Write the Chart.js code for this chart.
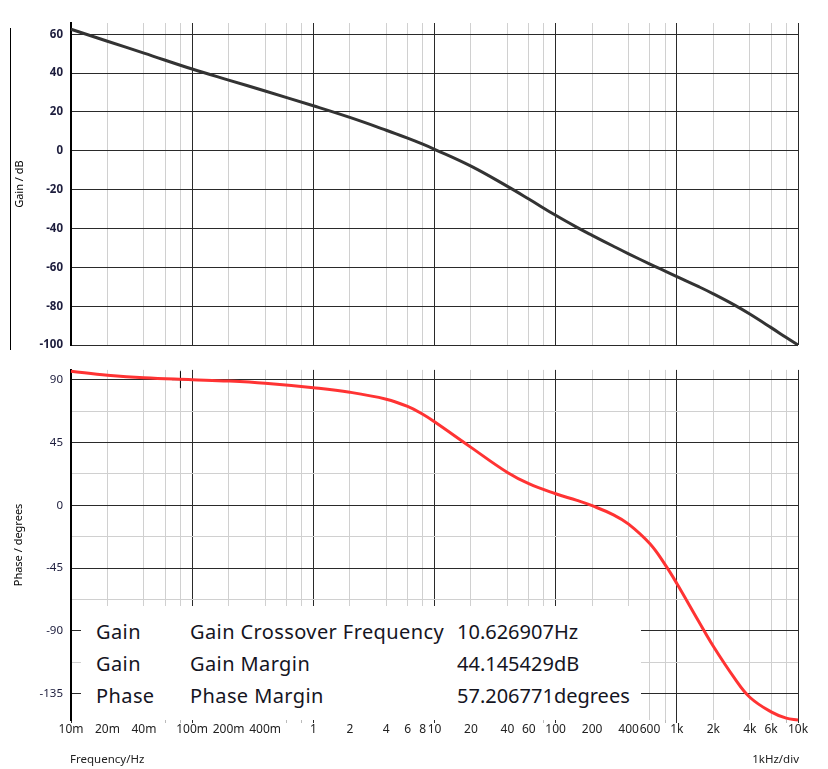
<!DOCTYPE html>
<html>
<head>
<meta charset="utf-8">
<title>Loop response</title>
<script src="https://cdn.jsdelivr.net/npm/chart.js@4.4.1/dist/chart.umd.min.js"></script>
<style>
  body { margin: 0; background: #fff; font-family: "Noto Sans", sans-serif; }
  #wrap { position: relative; width: 828px; height: 769px; overflow: hidden; }
  canvas { position: absolute; left: 0; }
  #gainChart { top: 0; }
  #phaseChart { top: 355px; }
  #frame { position: absolute; left: 10px; top: 28px; width: 1px; height: 322px; background: #000; }
  .note { position: absolute; top: 751px; font-size: 11.5px; line-height: 16px; color: #222; }
  #margins { position: absolute; left: 81px; top: 606px; width: 560px; height: 114px; background: #fff; color: #15151f; font-size: 20px; }
  #margins div { position: absolute; line-height: 26px; white-space: nowrap; }
  #margins .name { letter-spacing: 0.4px; }
</style>
</head>
<body>
<div id="wrap">
  <div id="frame"></div>
  <canvas id="gainChart" width="828" height="360"></canvas>
  <canvas id="phaseChart" width="828" height="415"></canvas>
  <div id="margins">
    <div class="name" style="left:15px; top:13px">Gain</div>
    <div class="name" style="left:109px; top:13px">Gain Crossover Frequency</div>
    <div style="left:376px; top:13px">10.626907Hz</div>
    <div class="name" style="left:15px; top:45px">Gain</div>
    <div class="name" style="left:109px; top:45px">Gain Margin</div>
    <div style="left:376px; top:45px">44.145429dB</div>
    <div class="name" style="left:15px; top:77px">Phase</div>
    <div class="name" style="left:109px; top:77px">Phase Margin</div>
    <div style="left:376px; top:77px">57.206771degrees</div>
  </div>
  <div class="note" style="left:70px">Frequency/Hz</div>
  <div class="note" style="right:29px">1kHz/div</div>
</div>
<script>
// sampled response, Hz / dB / degrees
const freqs = [0.01, 0.02, 0.04, 0.1, 0.2, 0.4, 1, 2, 4, 6, 8, 10, 20, 40, 60, 100, 150,
  200, 300, 400, 600, 800, 1000, 1500, 2000, 3000, 4000, 6000, 8000, 10000];
const gainDb = [62.6, 56.4, 50.3, 42.1, 36.4, 30.8, 23.2, 17.2, 10.6, 6.5, 3.4, 0.8, -7.9, -18.3, -24.8, -33.2, -39.4,
  -43.5, -49.1, -53.0, -58.3, -61.9, -64.7, -69.8, -73.6, -79.4, -84.0, -91.0, -96.1, -100.0];
const phaseDeg = [96.0, 93.2, 91.3, 90.0, 89.0, 87.4, 84.2, 81.0, 76.0, 70.8, 65.2, 59.8, 41.5, 23.5, 15.5, 8.3, 3.5,
  -0.3, -6.8, -13.5, -27.6, -42.5, -56.0, -82.5, -101.0, -124.0, -137.5, -148.0, -152.5, -153.8];

// cursor marker on the phase plot
const markerFreq = 0.08;
const markerPhase = 90;

// frequency axis labels
const labelFreqs = [0.01, 0.02, 0.04, 0.1, 0.2, 0.4, 1, 2, 4, 6, 8, 10, 20, 40, 60, 100,
  200, 400, 600, 1000, 2000, 4000, 6000, 10000];
const freqLabels = ['10m', '20m', '40m', '100m', '200m', '400m', '1', '2', '4', '6', '8', '10', '20', '40', '60', '100',
  '200', '400', '600', '1k', '2k', '4k', '6k', '10k'];

const gainTicks = [60, 40, 20, 0, -20, -40, -60, -80, -100];
const phaseTicks = [90, 67.5, 45, 22.5, 0, -22.5, -45, -67.5, -90, -112.5, -135];

// grid lines at 1, 2, 4, 6, 8 of every decade
const gridFreqs = [];
for (let d = 0.01; d < 5000; d *= 10) {
  [1, 2, 4, 6, 8].forEach(m => gridFreqs.push(+(d * m).toPrecision(3)));
}
gridFreqs.push(10000);

const MAJOR = '#2a2a2a';
const MINOR = '#d0d0d0';

Chart.defaults.font.family = '"Noto Sans", sans-serif';

const sameFreq = (a, b) => Math.abs(Math.log10(a / b)) < 1e-6;
const isDecade = v => Math.abs(Math.log10(v) - Math.round(Math.log10(v))) < 1e-6;
const isLabelled = v => labelFreqs.some(f => sameFreq(f, v));

function freqAxis(showLabels) {
  return {
    type: 'logarithmic',
    min: 0.01,
    max: 10000,
    afterBuildTicks: s => { s.ticks = gridFreqs.map(v => ({ value: v })); },
    afterFit: s => { s.height = showLabels ? 50 : 0; },
    border: { display: false },
    grid: {
      drawTicks: showLabels,
      tickLength: 3,
      color: c => isDecade(c.tick.value) ? MAJOR : MINOR,
      // small marks under the axis, hidden where a label sits
      tickColor: c => isDecade(c.tick.value) ? MAJOR : (isLabelled(c.tick.value) ? 'rgba(0,0,0,0)' : '#bbb')
    },
    ticks: {
      display: showLabels,
      autoSkip: false,
      maxRotation: 0,
      padding: -1,
      color: '#222',
      font: { size: 12 },
      callback: v => {
        const i = labelFreqs.findIndex(f => sameFreq(f, v));
        return i < 0 ? '' : freqLabels[i];
      }
    }
  };
}

function points(ys) {
  return freqs.map((f, i) => ({ x: f, y: ys[i] }));
}

new Chart(document.getElementById('gainChart'), {
  type: 'line',
  data: {
    datasets: [{
      data: points(gainDb),
      borderColor: '#333',
      borderWidth: 3,
      pointRadius: 0,
      tension: 0.4,
      clip: 3
    }]
  },
  options: {
    responsive: false,
    animation: false,
    events: [],
    layout: { padding: { top: 23, right: 30, bottom: 10.7, left: 0 } },
    plugins: { legend: { display: false }, tooltip: { enabled: false } },
    scales: {
      x: freqAxis(false),
      y: {
        min: -100,
        max: 65.8,
        afterBuildTicks: s => { s.ticks = gainTicks.map(v => ({ value: v })); },
        afterFit: s => { s.width = 71; },
        border: { display: true, color: '#000', width: 2 },
        grid: { drawTicks: false, color: MAJOR },
        ticks: { padding: 8, color: '#1c1c3c', font: { size: 11.5, weight: 'bold' } },
        title: {
          display: true,
          text: 'Gain / dB',
          color: '#000',
          font: { size: 11 },
          padding: { top: 13, bottom: 0 }
        }
      }
    }
  }
});

new Chart(document.getElementById('phaseChart'), {
  type: 'line',
  data: {
    datasets: [{
      data: points(phaseDeg),
      borderColor: '#ff3333',
      borderWidth: 3,
      pointRadius: 0,
      tension: 0.4,
      clip: 3
    }, {
      data: [{ x: markerFreq, y: markerPhase }],
      showLine: false,
      pointStyle: 'cross',
      pointRadius: 8.5,
      pointBorderColor: '#000',
      pointBorderWidth: 1
    }]
  },
  options: {
    responsive: false,
    animation: false,
    events: [],
    layout: { padding: { top: 9.3, right: 30, bottom: 0, left: 0 } },
    plugins: { legend: { display: false }, tooltip: { enabled: false } },
    scales: {
      x: freqAxis(true),
      y: {
        min: -153.8,
        max: 97,
        afterBuildTicks: s => { s.ticks = phaseTicks.map(v => ({ value: v })); },
        afterFit: s => { s.width = 71; },
        border: { display: true, color: '#000', width: 2 },
        grid: {
          drawTicks: false,
          color: c => c.tick.value % 45 === 0 ? MAJOR : MINOR
        },
        ticks: {
          padding: 8,
          color: '#1c1c3c',
          font: { size: 11.5 },
          callback: v => v % 45 === 0 ? String(v) : ''
        },
        title: {
          display: true,
          text: 'Phase / degrees',
          color: '#000',
          font: { size: 11 },
          padding: { top: 12, bottom: 0 }
        }
      }
    }
  }
});
</script>
</body>
</html>
